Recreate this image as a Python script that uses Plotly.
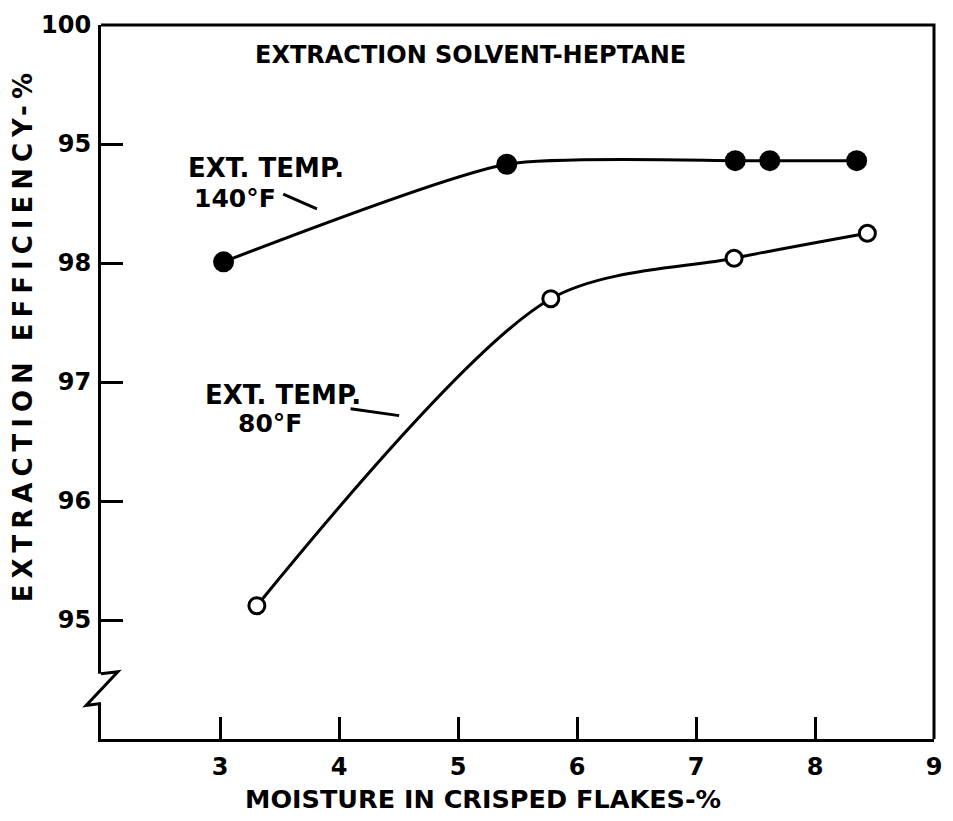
import plotly.graph_objects as go

# ---- data ----
x_140 = [3.03, 5.41, 7.33, 7.62, 8.35]
y_140 = [98.01, 98.83, 98.86, 98.86, 98.86]

x_80 = [3.31, 5.78, 7.32, 8.44]
y_80 = [95.12, 97.70, 98.04, 98.25]

x_ticks = [3, 4, 5, 6, 7, 8, 9]
x_ticktext = ["3", "4", "5", "6", "7", "8", "9"]
y_ticks = [95, 96, 97, 98, 99, 100]
y_ticktext = ["95", "96", "97", "98", "95", "100"]

title_text = "EXTRACTION SOLVENT-HEPTANE"
x_title = "MOISTURE IN CRISPED FLAKES-%"
y_title = "EXTRACTION EFFICIENCY-%"

FONT = "DejaVu Sans"
W, H = 953, 821
X0, X1 = 101, 942      # plot area, page pixels
Y0, Y1 = 17, 739
L, R, T, B = X0, W - X1, Y0, H - Y1
PW, PH = X1 - X0, Y1 - Y0


def px(xp):
    return (xp - X0) / PW


def py(yp):
    return (Y1 - yp) / PH


fig = go.Figure()

fig.add_trace(go.Scatter(
    x=x_140, y=y_140, mode="lines+markers",
    line=dict(color="black", width=3, shape="spline", smoothing=0.6),
    marker=dict(symbol="circle", size=21, color="black"),
    showlegend=False, cliponaxis=False,
))
fig.add_trace(go.Scatter(
    x=x_80, y=y_80, mode="lines+markers",
    line=dict(color="black", width=3, shape="spline", smoothing=0.85),
    marker=dict(symbol="circle", size=16, color="white",
                line=dict(color="black", width=3)),
    showlegend=False, cliponaxis=False,
))

shapes = [
    dict(type="path", xref="paper", yref="paper",
         path=f"M {px(X0)},{py(Y0)} L {px(X1)},{py(Y0)} L {px(X1)},{py(Y1)}",
         line=dict(color="black", width=3), layer="above"),
    dict(type="rect", xref="paper", yref="paper",
         x0=px(96), x1=px(106), y0=py(703), y1=py(673),
         fillcolor="white", line=dict(width=0), layer="above"),
    dict(type="path", xref="paper", yref="paper",
         path=(f"M {px(101)},{py(673)} L {px(118)},{py(671)} "
               f"L {px(86)},{py(705)} L {px(101)},{py(703)}"),
         line=dict(color="black", width=3), layer="above"),
    dict(type="line", xref="paper", yref="paper",
         x0=px(285), y0=py(188), x1=px(319), y1=py(203),
         line=dict(color="black", width=3)),
    dict(type="line", xref="paper", yref="paper",
         x0=px(353), y0=py(405), x1=px(402), y1=py(412),
         line=dict(color="black", width=3)),
]

bold = dict(family=FONT, color="black", weight="bold")

annotations = [
    dict(text=title_text, xref="paper", yref="paper", x=px(254), y=py(47),
         xanchor="left", yanchor="middle", showarrow=False,
         font=dict(size=24, **bold)),
    dict(text="EXT. TEMP.", xref="paper", yref="paper", x=px(187), y=py(162),
         xanchor="left", yanchor="middle", showarrow=False,
         font=dict(size=26, **bold)),
    dict(text="140°F", xref="paper", yref="paper", x=px(193), y=py(192),
         xanchor="left", yanchor="middle", showarrow=False,
         font=dict(size=25, **bold)),
    dict(text="EXT. TEMP.", xref="paper", yref="paper", x=px(204), y=py(391),
         xanchor="left", yanchor="middle", showarrow=False,
         font=dict(size=26, **bold)),
    dict(text="80°F", xref="paper", yref="paper", x=px(237), y=py(420),
         xanchor="left", yanchor="middle", showarrow=False,
         font=dict(size=25, **bold)),
    dict(text=x_title, xref="paper", yref="paper", x=px(244), y=py(800),
         xanchor="left", yanchor="middle", showarrow=False,
         font=dict(size=25.5, **bold)),
    dict(text=f'<span style="letter-spacing:6px">{y_title}</span>',
         xref="paper", yref="paper", x=px(22), y=py(330), textangle=-90,
         xanchor="center", yanchor="middle", showarrow=False,
         font=dict(size=26, **bold)),
]

axis_common = dict(ticks="inside", ticklen=22, tickwidth=3, tickcolor="black",
                   showgrid=False, zeroline=False, showline=True,
                   linecolor="black", linewidth=3, mirror=False,
                   tickfont=dict(size=24, **bold))

fig.update_layout(
    width=W, height=H,
    margin=dict(l=L, r=R, t=T, b=B, pad=0),
    paper_bgcolor="white", plot_bgcolor="white",
    shapes=shapes, annotations=annotations,
    xaxis=dict(range=[2, 9], tickvals=x_ticks, ticktext=x_ticktext,
               ticklabelstandoff=4, **axis_common),
    yaxis=dict(range=[94, 100], tickvals=y_ticks, ticktext=y_ticktext,
               ticklabelstandoff=2, **axis_common),
    font=dict(family=FONT, color="black"),
)

fig.write_html(
    "out.html",
    config={"displayModeBar": False},
    post_script="document.body.style.margin='0';document.body.style.overflow='hidden';",
)
